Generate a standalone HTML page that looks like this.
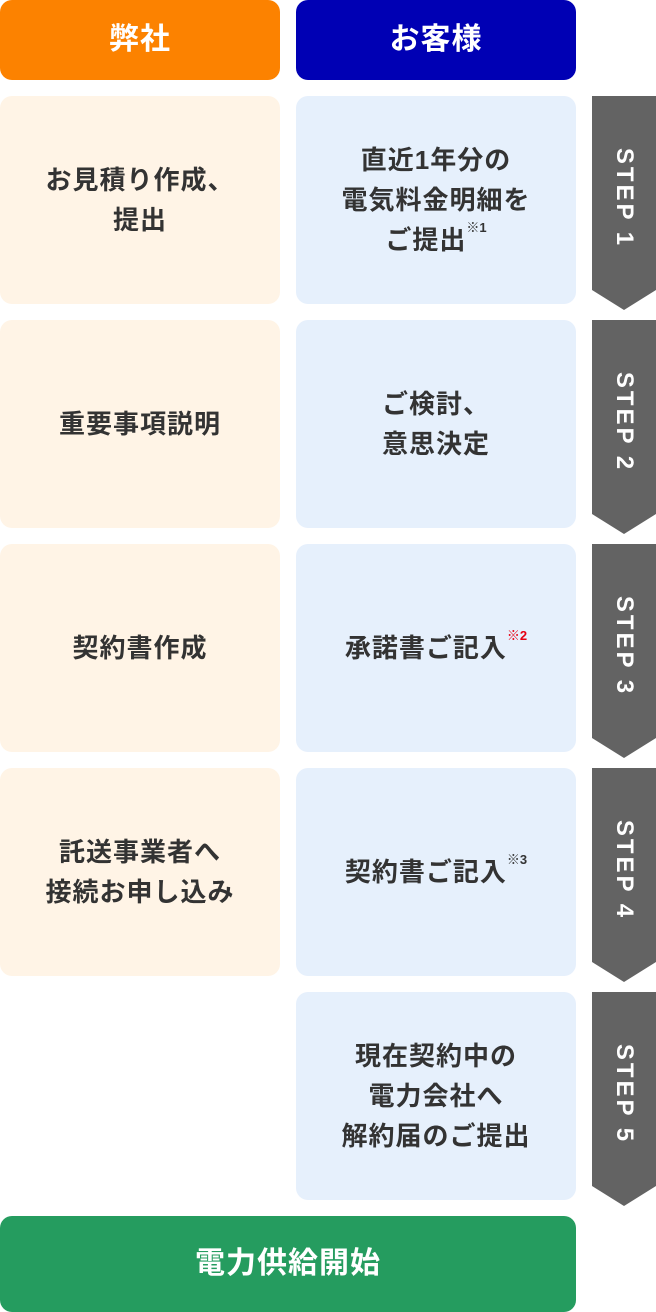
<!DOCTYPE html>
<html><head><meta charset="utf-8"><style>
*{margin:0;padding:0;box-sizing:border-box}
body{width:656px;height:1312px;background:#fff;position:relative;overflow:hidden;font-family:"Liberation Sans","Noto Sans CJK JP",sans-serif;font-weight:bold;color:#333}
.b{position:absolute;border-radius:12px;display:flex;align-items:center;justify-content:center;text-align:center;font-size:26px;line-height:40px;letter-spacing:1px;white-space:nowrap}
.h{color:#fff;font-size:30px}
.l{left:0;width:280px;background:#fff4e6}
.r{left:296px;width:280px;background:#e6f0fc}
sup{font-size:13px;vertical-align:top;line-height:20px;position:relative;top:-2px;letter-spacing:0}
.st{position:absolute;left:592px;width:64px}
.st span{position:absolute;left:32px;top:102px;transform:translate(-50%,-50%) rotate(90deg);color:#fff;font-size:24px;white-space:nowrap;letter-spacing:3px}
</style></head><body>
<div class="b h" style="left:0;top:0;width:280px;height:80px;background:#fc8200"><div>弊社</div></div>
<div class="b h" style="left:296px;top:0;width:280px;height:80px;background:#0000b4"><div>お客様</div></div>

<div class="b l" style="top:96px;height:208px"><div>お見積り作成、<br>提出</div></div>
<div class="b r" style="top:96px;height:208px"><div>直近1年分の<br>電気料金明細を<br>ご提出<sup>※1</sup></div></div>
<div class="b l" style="top:320px;height:208px"><div>重要事項説明</div></div>
<div class="b r" style="top:320px;height:208px"><div>ご検討、<br>意思決定</div></div>
<div class="b l" style="top:544px;height:208px"><div>契約書作成</div></div>
<div class="b r" style="top:544px;height:208px"><div>承諾書ご記入<sup style="color:#e60012">※2</sup></div></div>
<div class="b l" style="top:768px;height:208px"><div>託送事業者へ<br>接続お申し込み</div></div>
<div class="b r" style="top:768px;height:208px"><div>契約書ご記入<sup>※3</sup></div></div>
<div class="b r" style="top:992px;height:208px"><div>現在契約中の<br>電力会社へ<br>解約届のご提出</div></div>
<div class="b h" style="left:0;top:1216px;width:576px;height:96px;background:#259c5f"><div>電力供給開始</div></div>

<div class="st" style="top:96px"><svg width="64" height="214" style="position:absolute;left:0;top:0"><polygon points="0,0 64,0 64,194 32,214 0,194" fill="#636363"/></svg><span>STEP 1</span></div>
<div class="st" style="top:320px"><svg width="64" height="214" style="position:absolute;left:0;top:0"><polygon points="0,0 64,0 64,194 32,214 0,194" fill="#636363"/></svg><span>STEP 2</span></div>
<div class="st" style="top:544px"><svg width="64" height="214" style="position:absolute;left:0;top:0"><polygon points="0,0 64,0 64,194 32,214 0,194" fill="#636363"/></svg><span>STEP 3</span></div>
<div class="st" style="top:768px"><svg width="64" height="214" style="position:absolute;left:0;top:0"><polygon points="0,0 64,0 64,194 32,214 0,194" fill="#636363"/></svg><span>STEP 4</span></div>
<div class="st" style="top:992px"><svg width="64" height="214" style="position:absolute;left:0;top:0"><polygon points="0,0 64,0 64,194 32,214 0,194" fill="#636363"/></svg><span>STEP 5</span></div>
</body></html>
